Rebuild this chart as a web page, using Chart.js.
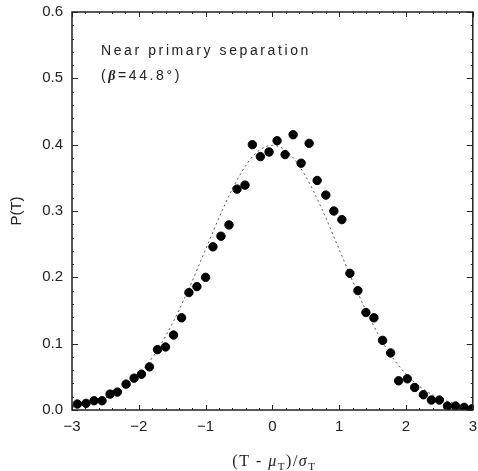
<!DOCTYPE html>
<html>
<head>
<meta charset="utf-8">
<script src="https://cdn.jsdelivr.net/npm/chart.js@4.4.1/dist/chart.umd.min.js"></script>
<style>
  html, body { margin: 0; padding: 0; background: #fff; }
  #wrap { width: 478px; height: 471px; }
</style>
</head>
<body>
<div id="wrap"><canvas id="chart" width="478" height="471"></canvas></div>
<script>
// measured points, P(T) against (T - muT)/sigmaT
const pointX = [-2.92, -2.79, -2.67, -2.55, -2.43, -2.32, -2.19, -2.07, -1.96, -1.84,
                -1.72, -1.60, -1.48, -1.36, -1.25, -1.13, -1.00, -0.89, -0.77, -0.65,
                -0.53, -0.41, -0.30, -0.18, -0.05, 0.07, 0.19, 0.31, 0.43, 0.55,
                0.67, 0.80, 0.92, 1.04, 1.16, 1.28, 1.40, 1.52, 1.65, 1.77,
                1.89, 2.02, 2.13, 2.26, 2.38, 2.50, 2.62, 2.74, 2.87, 2.99];
const pointY = [0.009, 0.010, 0.014, 0.014, 0.024, 0.027, 0.039, 0.048, 0.054, 0.065,
                0.091, 0.095, 0.113, 0.139, 0.177, 0.186, 0.200, 0.246, 0.262, 0.279,
                0.333, 0.339, 0.400, 0.382, 0.389, 0.406, 0.385, 0.415, 0.372, 0.402,
                0.346, 0.324, 0.300, 0.287, 0.206, 0.180, 0.147, 0.139, 0.105, 0.086,
                0.044, 0.047, 0.034, 0.023, 0.015, 0.015, 0.006, 0.006, 0.004, 0.002];

// dotted reference curve
const curveX = [-3, -2.75, -2.5, -2.25, -2, -1.75, -1.5, -1.25, -1, -0.75, -0.5, -0.25, 0,
                0.25, 0.5, 0.75, 1, 1.25, 1.5, 1.75, 2, 2.25, 2.5, 2.75, 3];
const curveY = [0.004, 0.009, 0.018, 0.032, 0.054, 0.086, 0.130, 0.183, 0.242, 0.301, 0.352, 0.387, 0.399,
                0.387, 0.352, 0.301, 0.242, 0.183, 0.130, 0.086, 0.054, 0.032, 0.018, 0.009, 0.004];

const xTicks = [-3, -2, -1, 0, 1, 2, 3];
const yTicks = [0.0, 0.1, 0.2, 0.3, 0.4, 0.5, 0.6];
const noteLine1 = 'Near primary separation';
const noteBeta = '44.8°';

const INK = '#222';

// frame + inward ticks on all four sides
const framePlugin = {
    id: 'frame',
    afterDraw(chart) {
        const { ctx, chartArea: a, scales: { x, y } } = chart;
        ctx.save();
        ctx.strokeStyle = INK;
        ctx.lineWidth = 1.5;
        ctx.strokeRect(a.left, a.top, a.right - a.left, a.bottom - a.top);
        ctx.lineWidth = 1;
        const seg = (x1, y1, x2, y2) => {
            ctx.beginPath(); ctx.moveTo(x1, y1); ctx.lineTo(x2, y2); ctx.stroke();
        };
        xTicks.forEach(v => {
            const px = Math.round(x.getPixelForValue(v)) + 0.5;
            seg(px, a.bottom, px, a.bottom - 5);
            seg(px, a.top, px, a.top + 5);
        });
        yTicks.forEach(v => {
            const py = Math.round(y.getPixelForValue(v)) + 0.5;
            seg(a.left, py, a.left + 6, py);
            seg(a.right, py, a.right - 6, py);
        });
        // minor ticks
        for (let i = 0; i < xTicks.length - 1; i++) {
            for (let k = 1; k < 5; k++) {
                const px = Math.round(x.getPixelForValue(xTicks[i] + k * 0.2)) + 0.5;
                seg(px, a.bottom, px, a.bottom - 2);
                seg(px, a.top, px, a.top + 2);
            }
        }
        for (let i = 0; i < yTicks.length - 1; i++) {
            for (let k = 1; k < 5; k++) {
                const py = Math.round(y.getPixelForValue(yTicks[i] + k * 0.02)) + 0.5;
                seg(a.left, py, a.left + 2, py);
                seg(a.right, py, a.right - 2, py);
            }
        }
        ctx.restore();
    }
};

// text inside the plot and the x axis title with subscripts
const textPlugin = {
    id: 'texts',
    afterDraw(chart) {
        const { ctx, chartArea: a } = chart;
        ctx.save();
        ctx.fillStyle = INK;
        ctx.textBaseline = 'alphabetic';
        ctx.textAlign = 'left';
        ctx.letterSpacing = '2.6px';
        ctx.font = '14px "Liberation Sans"';
        let tx = a.left + 29;
        ctx.fillText(noteLine1, tx, a.top + 43);
        // (β=44.8°)
        let by = a.top + 68;
        ctx.fillText('(', tx, by); tx += ctx.measureText('(').width;
        ctx.font = 'italic bold 14px "Liberation Serif"';
        ctx.fillText('β', tx, by); tx += ctx.measureText('β').width;
        ctx.font = '14px "Liberation Sans"';
        ctx.fillText('=' + noteBeta + ')', tx, by);

        // x title: (T - μT)/σT
        ctx.letterSpacing = '1.5px';
        const parts = [
            { t: '(T - ', f: '16px "Liberation Serif"', dy: 0 },
            { t: 'μ', f: 'italic 16px "Liberation Serif"', dy: 0 },
            { t: 'T', f: '11px "Liberation Serif"', dy: 4 },
            { t: ')/', f: '16px "Liberation Serif"', dy: 0 },
            { t: 'σ', f: 'italic 16px "Liberation Serif"', dy: 0 },
            { t: 'T', f: '11px "Liberation Serif"', dy: 4 }
        ];
        let total = 0;
        parts.forEach(p => { ctx.font = p.f; total += ctx.measureText(p.t).width; });
        let px = (a.left + a.right) / 2 - total / 2 + 2;
        const base = a.bottom + 56;
        parts.forEach(p => {
            ctx.font = p.f;
            ctx.fillText(p.t, px, base + p.dy);
            px += ctx.measureText(p.t).width;
        });
        ctx.restore();
    }
};

new Chart(document.getElementById('chart'), {
    type: 'scatter',
    data: {
        datasets: [
            {
                label: 'measured',
                data: pointX.map((v, i) => ({ x: v, y: pointY[i] })),
                backgroundColor: '#000',
                borderColor: '#000',
                pointRadius: 4.2,
                pointHoverRadius: 4.2,
                order: 1
            },
            {
                label: 'curve',
                data: curveX.map((v, i) => ({ x: v, y: curveY[i] })),
                showLine: true,
                borderColor: '#555',
                borderWidth: 1,
                borderDash: [2, 3],
                cubicInterpolationMode: 'monotone',
                pointRadius: 0,
                fill: false,
                order: 2
            }
        ]
    },
    options: {
        responsive: false,
        animation: false,
        layout: { padding: { left: 0, top: 12, right: 4, bottom: 0 } },
        plugins: {
            legend: { display: false },
            tooltip: { enabled: false }
        },
        scales: {
            x: {
                type: 'linear',
                min: -3,
                max: 3,
                afterBuildTicks: s => { s.ticks = xTicks.map(v => ({ value: v })); },
                ticks: {
                    color: INK,
                    font: { family: '"Liberation Sans"', size: 15 },
                    padding: 8,
                    callback: v => v < 0 ? '\u2212' + Math.abs(v) : String(v)
                },
                grid: { display: false, drawTicks: false },
                border: { display: false },
                afterFit: s => { s.height = 61; s.paddingLeft = 0; s.paddingRight = 0; }
            },
            y: {
                min: 0,
                max: 0.6,
                afterBuildTicks: s => { s.ticks = yTicks.map(v => ({ value: v })); },
                ticks: {
                    color: INK,
                    font: { family: '"Liberation Sans"', size: 15 },
                    padding: 9,
                    callback: v => v.toFixed(1)
                },
                title: {
                    display: true,
                    text: 'P(T)',
                    color: INK,
                    font: { family: '"Liberation Sans"', size: 15 },
                    padding: { top: 8, bottom: 0 }
                },
                grid: { display: false, drawTicks: false },
                border: { display: false },
                afterFit: s => { s.width = 72; s.paddingTop = 0; s.paddingBottom = 0; }
            }
        }
    },
    plugins: [framePlugin, textPlugin]
});
</script>
</body>
</html>
